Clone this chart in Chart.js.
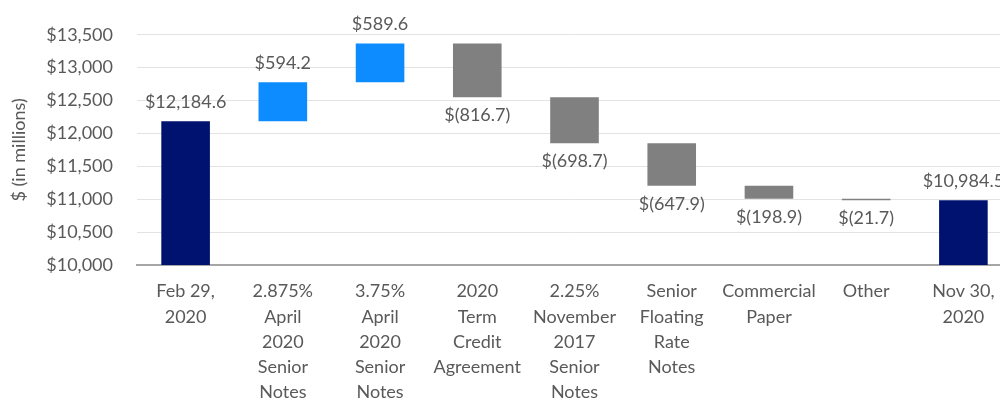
<!DOCTYPE html>
<html><head><meta charset="utf-8">
<script src="https://cdn.jsdelivr.net/npm/chart.js@4.4.0/dist/chart.umd.min.js"></script>
<style>
html,body{margin:0;padding:0;background:#fff;overflow:hidden;width:1000px;height:402px;}
#wrap{position:absolute;left:0;top:0;width:1012px;height:402px;}
</style></head>
<body><div id="wrap"><canvas id="c" width="1012" height="402"></canvas></div>
<script>
const categories = [
  ["Feb 29,","2020"],
  ["2.875%","April","2020","Senior","Notes"],
  ["3.75%","April","2020","Senior","Notes"],
  ["2020","Term","Credit","Agreement"],
  ["2.25%","November","2017","Senior","Notes"],
  ["Senior","Floating","Rate","Notes"],
  ["Commercial","Paper"],
  ["Other"],
  ["Nov 30,","2020"]
];
const startValue = 12184.6;
const changes = [594.2, 589.6, -816.7, -698.7, -647.9, -198.9, -21.7];
const endValue = 10984.5;
const labelsText = ["$12,184.6","$594.2","$589.6","$(816.7)","$(698.7)","$(647.9)","$(198.9)","$(21.7)","$10,984.5"];
const yMin = 10000, yMax = 13500, yStep = 500;

const NAVY = '#00126F', BLUE = '#0D8CFF', GRAY = '#808080';
// build floating ranges
const ranges = [];
const colors = [];
ranges.push([yMin, startValue]); colors.push(NAVY);
let run = startValue;
changes.forEach(c => {
  const nv = run + c;
  ranges.push([Math.min(run, nv), Math.max(run, nv)]);
  colors.push(c >= 0 ? BLUE : GRAY);
  run = nv;
});
ranges.push([yMin, endValue]); colors.push(NAVY);
const kinds = ['total', ...changes.map(c => c >= 0 ? 'up' : 'down'), 'total'];

const FONT = 'Lato, "Open Sans", sans-serif';
const labelPlugin = {
  id: 'wfLabels',
  afterDatasetsDraw(chart) {
    const ctx = chart.ctx;
    const meta = chart.getDatasetMeta(0);
    const y = chart.scales.y;
    ctx.save();
    ctx.font = '18px ' + FONT;
    ctx.fillStyle = '#595959';
    ctx.textAlign = 'center';
    ctx.textBaseline = 'middle';
    meta.data.forEach((bar, i) => {
      const r = ranges[i];
      let py;
      if (kinds[i] === 'down') py = y.getPixelForValue(r[0]) + 18;
      else py = y.getPixelForValue(r[1]) - 19;
      ctx.fillText(labelsText[i], bar.x, py);
    });
    ctx.restore();
  }
};

new Chart(document.getElementById('c'), {
  type: 'bar',
  data: {
    labels: categories,
    datasets: [{
      data: ranges,
      backgroundColor: colors,
      borderWidth: 0,
      barPercentage: 0.5,
      categoryPercentage: 1.0,
      borderSkipped: false
    }]
  },
  options: {
    responsive: false,
    animation: false,
    devicePixelRatio: 1,
    layout: { padding: { top: 32, right: 0, left: 0, bottom: 0 } },
    plugins: { legend: { display: false }, tooltip: { enabled: false } },
    scales: {
      x: {
        grid: { display: false, drawTicks: false },
        border: { display: true, color: '#A6A6A6', width: 2 },
        ticks: { color: '#595959', font: { size: 18, family: FONT, lineHeight: 1.4 }, padding: 14, maxRotation: 0, autoSkip: false },
        afterFit(s) { s.height = 137; }
      },
      y: {
        min: yMin, max: yMax,
        grid: { color: '#E3E3E3', lineWidth: 1, drawTicks: false },
        border: { display: false },
        ticks: {
          stepSize: yStep, padding: 24, color: '#595959',
          font: { size: 18, family: FONT },
          callback: v => '$' + v.toLocaleString('en-US')
        },
        title: { display: true, text: '$ (in millions)', color: '#595959', font: { size: 18, family: FONT }, padding: { top: 8, bottom: 0 } },
        afterFit(s) { s.width = 137; }
      }
    }
  },
  plugins: [labelPlugin]
});
</script></body></html>
